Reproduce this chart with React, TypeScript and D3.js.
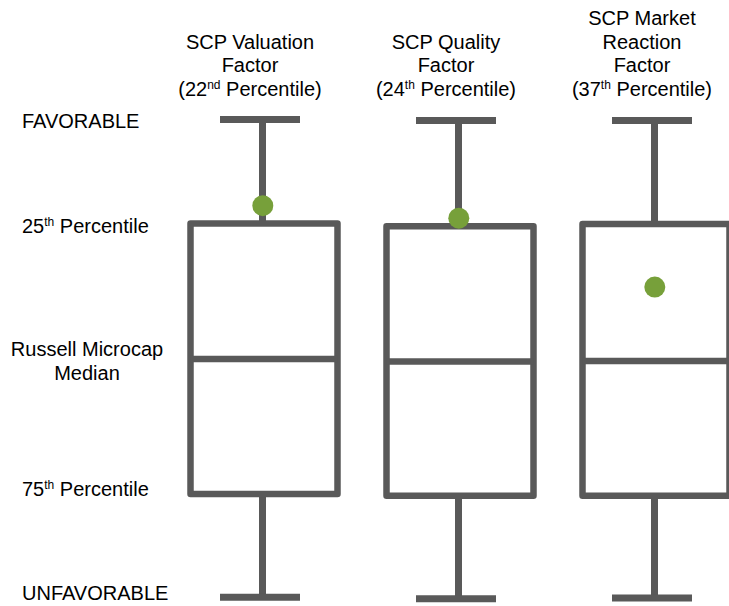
import React from 'react';
import * as d3 from 'd3';

// ---- data ----
const factors = ["Valuation", "Quality", "Market Reaction"];
const titleLines = [
  ["SCP Valuation", "Factor"],
  ["SCP Quality", "Factor"],
  ["SCP Market", "Reaction", "Factor"],
];
const rankNumbers = ["22", "24", "37"];
const rankSuffixes = ["nd", "th", "th"];

// positions on the percentile-rank axis (0 = favorable, 100 = unfavorable)
const whiskerTop = [-0.1, 0.1, 0.1];
const q1 = [24.9, 25.4, 25.0];
const median = [49.8, 50.3, 50.2];
const q3 = [74.8, 75.2, 75.2];
const whiskerBottom = [99.8, 100.2, 100.0];
const scores = [20.6, 23.6, 36.6];

const tickValues = [0, 25, 50, 75, 100];
const tickMain = ["FAVORABLE", "25", "Russell Microcap", "75", "UNFAVORABLE"];
const tickSup = ["", "th", "", "th", ""];
const tickRest = ["", " Percentile", "Median", " Percentile", ""];

const W = 729;
const H = 606;
const GREY = '#595959';
const GREEN = '#77A03A';
const FONT = '"Liberation Sans", Arial, sans-serif';

export default function App() {
  const x = d3.scaleBand<string>().domain(factors).range([166, 754]).padding(0);
  const y = d3.scaleLinear().domain(tickValues).range([120, 224, 360, 495, 598]);
  const boxW = 147;
  const fs = 20;

  const labelDy = [7.5, 9, -4, 1, 2];

  return (
    <svg width={W} height={H} style={{ position: 'absolute', left: 0, top: 0, background: '#fff' }}
      fontFamily={FONT}>
      <rect x={0} y={0} width={W} height={H} fill="#fff" />
      {/* left axis labels */}
      {tickValues.map((v, i) => {
        const yy = y(v) + labelDy[i];
        if (i === 2) {
          return (
            <text key={i} x={87} y={yy} fontSize={fs} textAnchor="middle" fill="#000">
              <tspan x={87}>{tickMain[i]}</tspan>
              <tspan x={87} dy={24}>{tickRest[i]}</tspan>
            </text>
          );
        }
        return (
          <text key={i} x={22} y={yy} fontSize={fs} fill="#000">
            <tspan>{tickMain[i]}</tspan>
            {tickSup[i] && <tspan fontSize={12} dy={-7}>{tickSup[i]}</tspan>}
            {tickSup[i] && <tspan dy={7}>{tickRest[i]}</tspan>}
          </text>
        );
      })}

      {factors.map((f, i) => {
        const cx = (x(f) as number) + x.bandwidth() / 2;
        const wx = cx - 1.5;
        const lines = titleLines[i];
        const tx = cx - 14;
        const lastBase = 95.5;
        const lh = 23.5;
        const firstBase = lastBase - lh * (lines.length + 1);
        return (
          <g key={f}>
            <text x={tx} y={firstBase} fontSize={fs} textAnchor="middle" fill="#000">
              {lines.map((l, j) => (
                <tspan key={j} x={tx} dy={lh}>{l}</tspan>
              ))}
              <tspan x={tx} dy={lh}>{'(' + rankNumbers[i]}</tspan>
              <tspan fontSize={12} dy={-7}>{rankSuffixes[i]}</tspan>
              <tspan dy={7}>{' Percentile)'}</tspan>
            </text>
            {/* whiskers */}
            <line x1={wx} x2={wx} y1={y(whiskerTop[i])} y2={y(q1[i])} stroke={GREY} strokeWidth={7} />
            <line x1={wx} x2={wx} y1={y(q3[i])} y2={y(whiskerBottom[i])} stroke={GREY} strokeWidth={7} />
            <line x1={cx - 44} x2={cx + 36} y1={y(whiskerTop[i])} y2={y(whiskerTop[i])} stroke={GREY} strokeWidth={7} />
            <line x1={cx - 44} x2={cx + 36} y1={y(whiskerBottom[i])} y2={y(whiskerBottom[i])} stroke={GREY} strokeWidth={7} />
            {/* box */}
            <rect x={cx - boxW / 2} y={y(q1[i])} width={boxW} height={y(q3[i]) - y(q1[i])}
              fill="#fff" stroke={GREY} strokeWidth={6.5} strokeLinejoin="round" />
            <line x1={cx - boxW / 2} x2={cx + boxW / 2} y1={y(median[i])} y2={y(median[i])} stroke={GREY} strokeWidth={6.5} />
            {/* score */}
            <circle cx={cx - 1.2} cy={y(scores[i])} r={10.5} fill={GREEN} />
          </g>
        );
      })}
    </svg>
  );
}
